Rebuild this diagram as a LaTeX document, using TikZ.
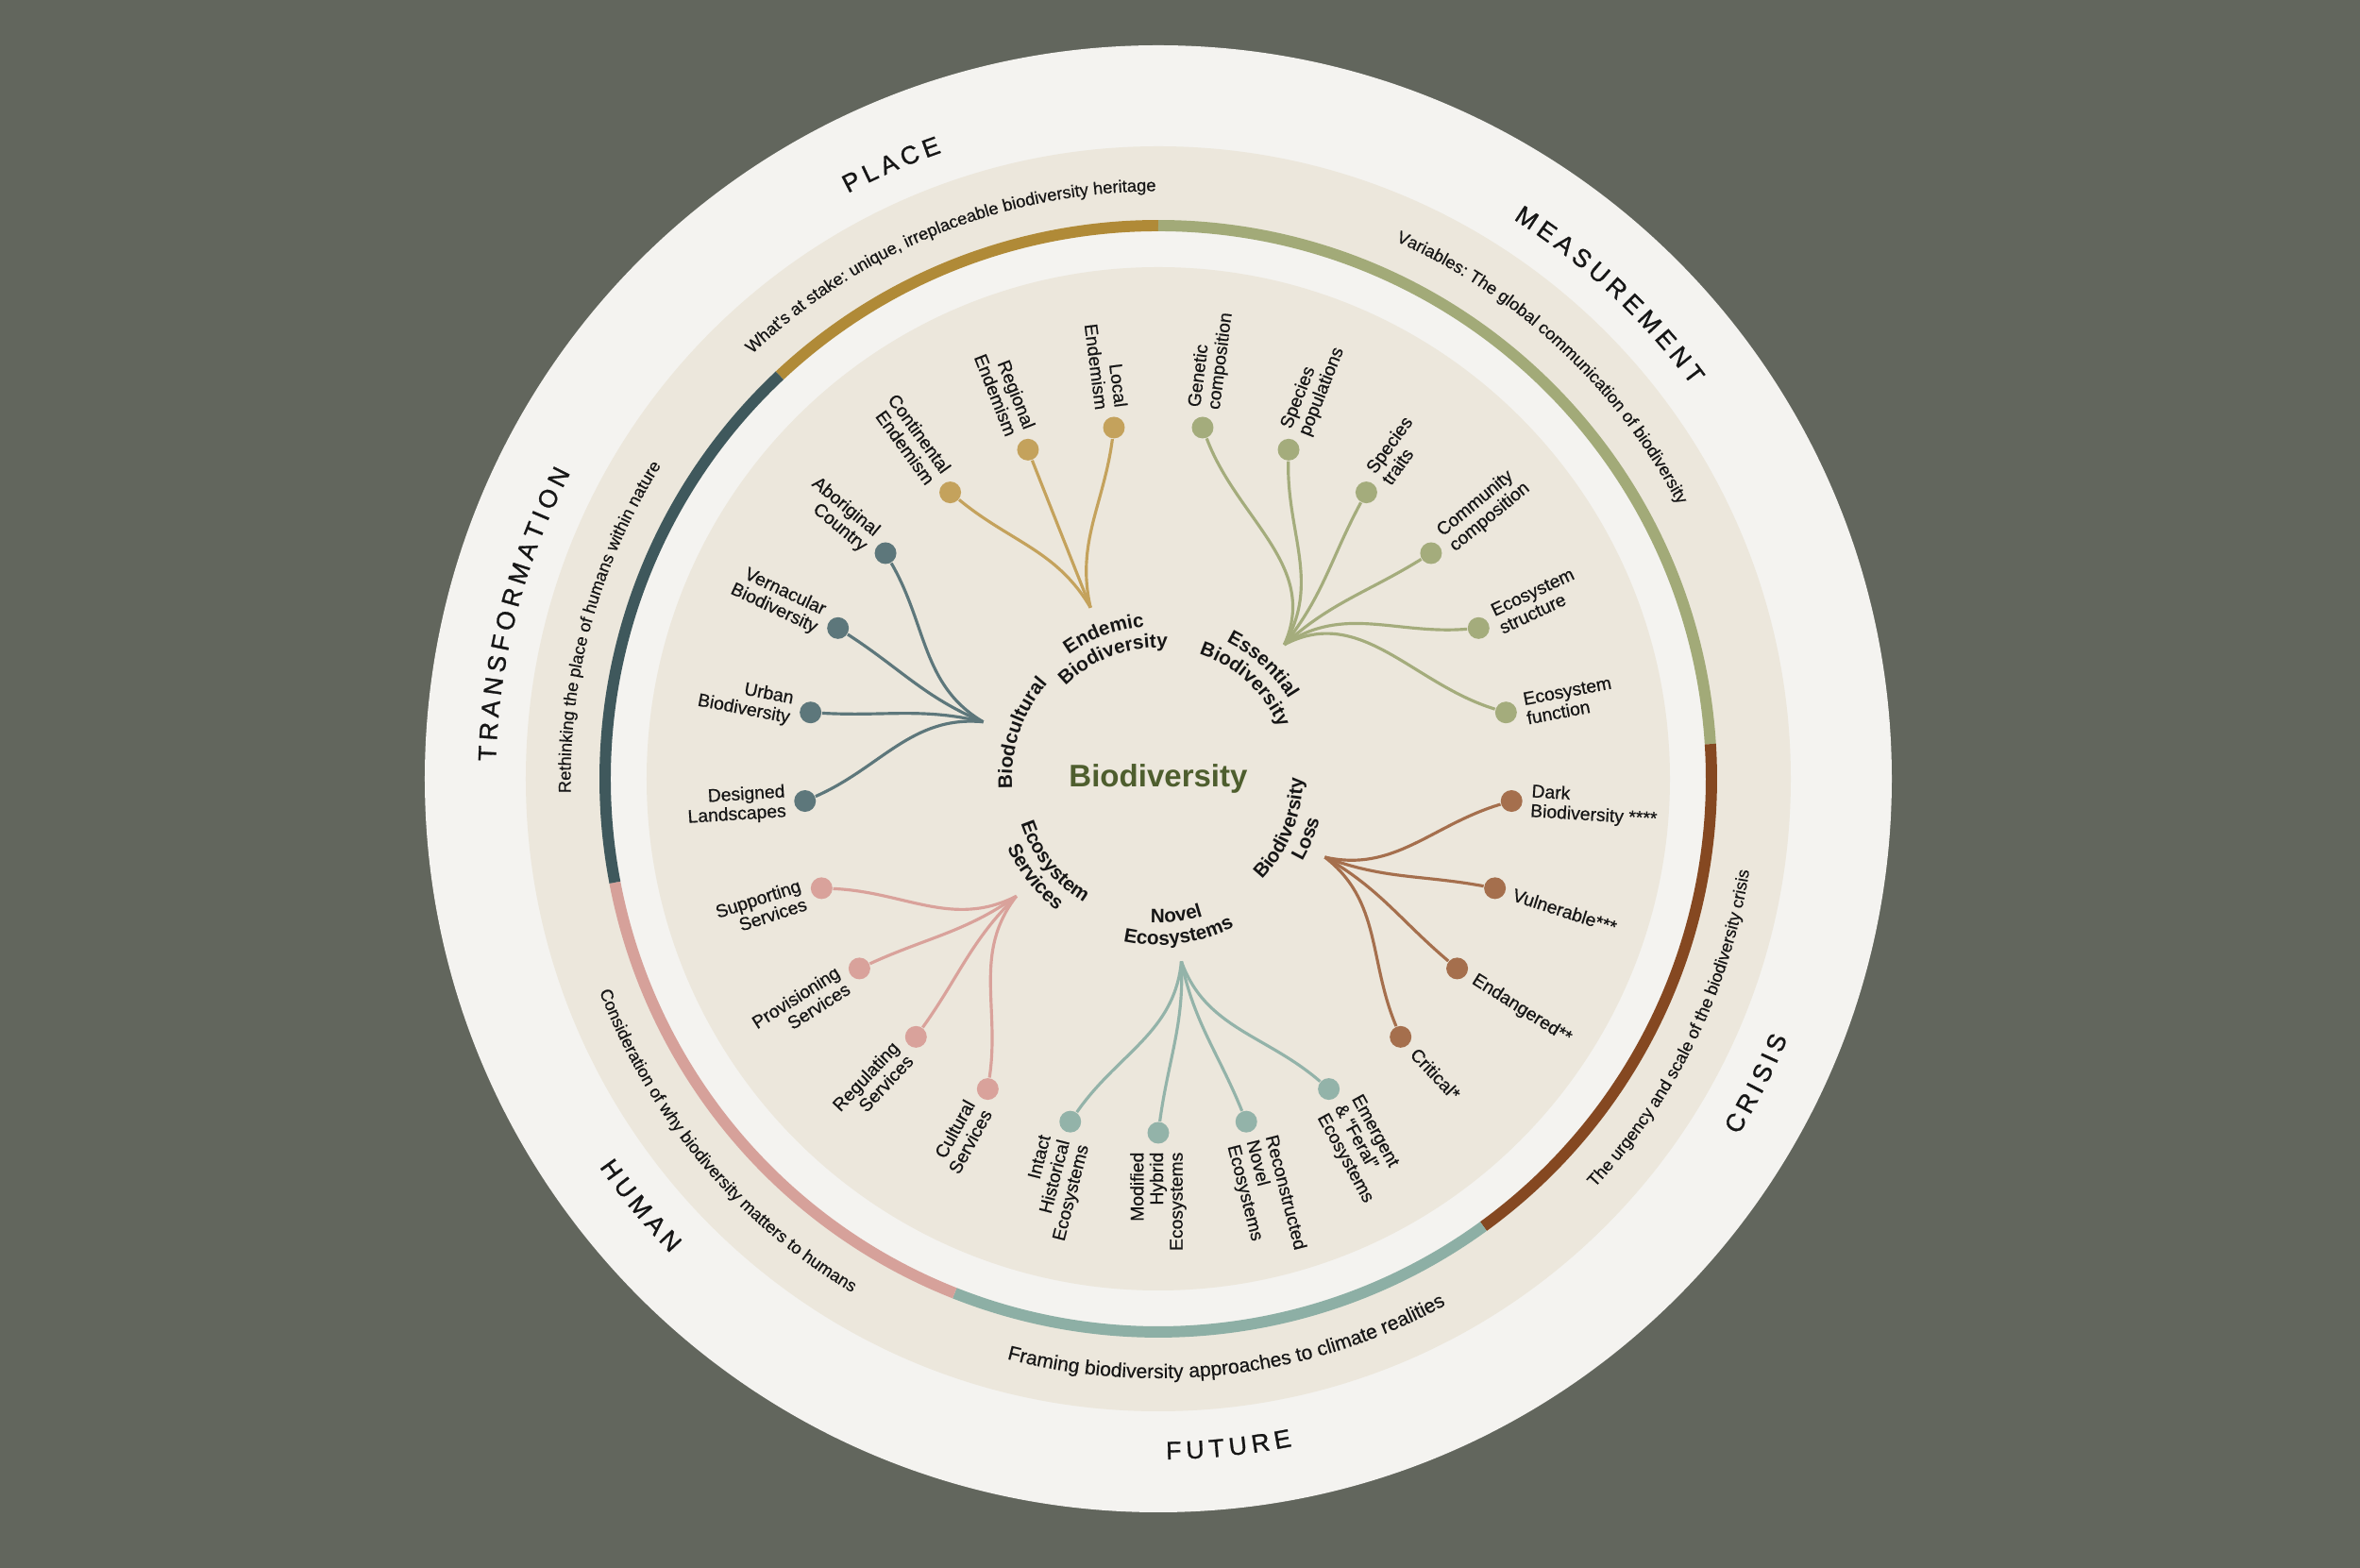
\documentclass[tikz,border=0pt]{standalone}
\usepackage{fontspec}
\setmainfont{Liberation Sans}
\newfontfamily\trackedsans[WordSpace=0.7, FakeBold=1.1]{Liberation Sans}
\newfontfamily\medsans[FakeBold=0.6]{Liberation Sans}
\newfontfamily\ringsans[FakeBold=0.4]{Liberation Sans}
\usepackage{xcolor}
\usepackage{tikz}
\usetikzlibrary{decorations.text}

\definecolor{slatebg}{HTML}{62665D}
\definecolor{paper}{HTML}{F4F3F0}
\definecolor{sand}{HTML}{ECE7DC}
\definecolor{ink}{HTML}{161616}
\definecolor{coregreen}{HTML}{4E5E2E}
\definecolor{goldband}{HTML}{B08A37}
\definecolor{sageband}{HTML}{A2AA78}
\definecolor{rustband}{HTML}{854821}
\definecolor{tealband}{HTML}{8DAFA5}
\definecolor{roseband}{HTML}{D6A19A}
\definecolor{slateband}{HTML}{3F585C}
\definecolor{goldleaf}{HTML}{C4A25C}
\definecolor{sageleaf}{HTML}{A4AC7C}
\definecolor{rustleaf}{HTML}{A56F4D}
\definecolor{tealleaf}{HTML}{93B3A9}
\definecolor{roseleaf}{HTML}{D9A29B}
\definecolor{slateleaf}{HTML}{5D777B}

\newcommand\ringcaps{\trackedsans\fontsize{7.6}{8}\selectfont}
\newcommand\ringtxt{\ringsans\fontsize{5.2}{6}\selectfont}
\newcommand\ringbig{\ringsans\fontsize{6}{7}\selectfont}
\newcommand\cattxt{\bfseries\fontsize{5.9}{6.5}\selectfont}
\newcommand\leaftxt{\medsans\fontsize{5.5}{5.9}\selectfont}

\begin{document}
\begin{tikzpicture}[
    dot/.style={
        circle,
        inner sep=0pt,
        minimum size=0.23cm
    },
    leafR/.style={
        anchor=west,
        align=left,
        font=\leaftxt,
        text=ink,
        inner sep=0pt
    },
    leafL/.style={
        anchor=east,
        align=right,
        font=\leaftxt,
        text=ink,
        inner sep=0pt
    },
    branch/.style={
        line width=0.9pt
    },
    band/.style={
        line width=3.4pt
    },
    arctext/.style={
        decorate,
        decoration={text along path, text align=center, text color=ink, text={#1}}
    }
]

% Background and rings
\fill[slatebg] (-12.27,-8.36) rectangle (12.73,8.25);
\fill[paper] (0,0) circle (7.77);
\fill[sand] (0,0) circle (6.70);
\fill[paper] (0,0) circle (5.86);
\fill[sand] (0,0) circle (5.42);

% Coloured band
\draw[band, goldband] (133.2:5.86) arc[start angle=133.2, end angle=90, radius=5.86];
\draw[band, sageband] (90:5.86) arc[start angle=90, end angle=3.6, radius=5.86];
\draw[band, rustband] (3.6:5.86) arc[start angle=3.6, end angle=-54, radius=5.86];
\draw[band, tealband] (-54:5.86) arc[start angle=-54, end angle=-111.6, radius=5.86];
\draw[band, roseband] (248.4:5.86) arc[start angle=248.4, end angle=190.8, radius=5.86];
\draw[band, slateband] (190.8:5.86) arc[start angle=190.8, end angle=133.2, radius=5.86];

% Outer themes
\path[arctext={|\ringcaps|P L A C E}] (138.5:7.02) arc[start angle=138.5, end angle=88.5, radius=7.02];
\path[arctext={|\ringcaps|M E A S U R E M E N T}] (72:7.02) arc[start angle=72, end angle=22, radius=7.02];
\path[arctext={|\ringcaps|T R A N S F O R M A T I O N}] (190.5:7.02) arc[start angle=190.5, end angle=140.5, radius=7.02];
\path[arctext={|\ringcaps|C R I S I S}] (-52:7.21) arc[start angle=-52, end angle=-2, radius=7.21];
\path[arctext={|\ringcaps|F U T U R E}] (-109:7.21) arc[start angle=-109, end angle=-59, radius=7.21];
\path[arctext={|\ringcaps|H U M A N}] (194.5:7.21) arc[start angle=194.5, end angle=244.5, radius=7.21];

% Ring captions
\path[arctext={|\ringtxt|What's at stake: unique, irreplaceable biodiversity heritage}] (147:6.225) arc[start angle=147, end angle=77, radius=6.225];
\path[arctext={|\ringtxt|Variables: The global communication of biodiversity}] (82:6.225) arc[start angle=82, end angle=12, radius=6.225];
\path[arctext={|\ringtxt|Rethinking the place of humans within nature}] (199.6:6.225) arc[start angle=199.6, end angle=129.6, radius=6.225];
\path[arctext={|\ringtxt|The urgency and scale of the biodiversity crisis}] (-61:6.335) arc[start angle=-61, end angle=9, radius=6.335];
\path[arctext={|\ringbig|Framing biodiversity approaches to climate realities}] (-118:6.35) arc[start angle=-118, end angle=-48, radius=6.35];
\path[arctext={|\ringtxt|Consideration of why biodiversity matters to humans}] (185:6.335) arc[start angle=185, end angle=255, radius=6.335];

% Centre
\node[font=\bfseries\fontsize{9.4}{10}\selectfont, text=coregreen] (core) at (0,0) {Biodiversity};

% Category labels
\path[arctext={|\cattxt|Endemic}] (155.5:1.62) arc[start angle=155.5, end angle=65.5, radius=1.62];
\path[arctext={|\cattxt|Biodiversity}] (155.5:1.39) arc[start angle=155.5, end angle=65.5, radius=1.39];
\path[arctext={|\cattxt|Essential}] (92.5:1.62) arc[start angle=92.5, end angle=2.5, radius=1.62];
\path[arctext={|\cattxt|Biodiversity}] (92.5:1.39) arc[start angle=92.5, end angle=2.5, radius=1.39];
\path[arctext={|\cattxt|Biodcultural}] (206.5:1.55) arc[start angle=206.5, end angle=116.5, radius=1.55];
\path[arctext={|\cattxt|Biodiversity}] (-67:1.53) arc[start angle=-67, end angle=23, radius=1.53];
\path[arctext={|\cattxt|Loss}] (-67:1.76) arc[start angle=-67, end angle=23, radius=1.76];
\path[arctext={|\cattxt|Novel}] (-127.5:1.53) arc[start angle=-127.5, end angle=-37.5, radius=1.53];
\path[arctext={|\cattxt|Ecosystems}] (-127.5:1.76) arc[start angle=-127.5, end angle=-37.5, radius=1.76];
\path[arctext={|\cattxt|Ecosystem}] (173.5:1.53) arc[start angle=173.5, end angle=263.5, radius=1.53];
\path[arctext={|\cattxt|Services}] (173.5:1.76) arc[start angle=173.5, end angle=263.5, radius=1.76];

% Endemic Biodiversity
\coordinate (endroot) at (111.6:1.95);
\node[dot, fill=goldleaf] (local) at (97.2:3.75) {};
\node[dot, fill=goldleaf] (regional) at (111.6:3.75) {};
\node[dot, fill=goldleaf] (continental) at (126:3.75) {};
\node[leafL, rotate=277.2] (localtxt) at (97.2:3.95) {Local\\Endemism};
\node[leafL, rotate=291.6] (regionaltxt) at (111.6:3.95) {Regional\\Endemism};
\node[leafL, rotate=306] (continentaltxt) at (126:3.95) {Continental\\Endemism};
\draw[branch, goldleaf] (endroot) to[out=102.9, in=262.6] (local);
\draw[branch, goldleaf] (endroot) to[out=111.6, in=291.6] (regional);
\draw[branch, goldleaf] (endroot) to[out=120.3, in=320.6] (continental);

% Essential Biodiversity
\coordinate (essroot) at (46.8:1.95);
\node[dot, fill=sageleaf] (function) at (10.8:3.75) {};
\node[dot, fill=sageleaf] (structure) at (25.2:3.75) {};
\node[dot, fill=sageleaf] (community) at (39.6:3.75) {};
\node[dot, fill=sageleaf] (traits) at (54:3.75) {};
\node[dot, fill=sageleaf] (populations) at (68.4:3.75) {};
\node[dot, fill=sageleaf] (genetic) at (82.8:3.75) {};
\node[leafR, rotate=10.8] (functiontxt) at (10.8:3.95) {Ecosystem\\function};
\node[leafR, rotate=25.2] (structuretxt) at (25.2:3.95) {Ecosystem\\structure};
\node[leafR, rotate=39.6] (communitytxt) at (39.6:3.95) {Community\\composition};
\node[leafR, rotate=54] (traitstxt) at (54:3.95) {Species\\traits};
\node[leafR, rotate=68.4] (populationstxt) at (68.4:3.95) {Species\\populations};
\node[leafR, rotate=82.8] (genetictxt) at (82.8:3.95) {Genetic\\composition};
\draw[branch, sageleaf] (essroot) to[out=27.7, in=163] (function);
\draw[branch, sageleaf] (essroot) to[out=34.2, in=184.9] (structure);
\draw[branch, sageleaf] (essroot) to[out=42.3, in=211.9] (community);
\draw[branch, sageleaf] (essroot) to[out=51.3, in=241.7] (traits);
\draw[branch, sageleaf] (essroot) to[out=59.4, in=268.7] (populations);
\draw[branch, sageleaf] (essroot) to[out=65.9, in=290.6] (genetic);

% Biodiversity Loss
\coordinate (lossroot) at (-25.2:1.95);
\node[dot, fill=rustleaf] (critical) at (-46.8:3.75) {};
\node[dot, fill=rustleaf] (endangered) at (-32.4:3.75) {};
\node[dot, fill=rustleaf] (vulnerable) at (-18:3.75) {};
\node[dot, fill=rustleaf] (dark) at (-3.6:3.75) {};
\node[leafR, rotate=-46.8] (criticaltxt) at (-46.8:3.95) {Critical*};
\node[leafR, rotate=-32.4] (endangeredtxt) at (-32.4:3.95) {Endangered**};
\node[leafR, rotate=-18] (vulnerabletxt) at (-18:3.95) {Vulnerable***};
\node[leafR, rotate=-3.6] (darktxt) at (-3.6:3.95) {Dark\\Biodiversity ****};
\draw[branch, rustleaf] (lossroot) to[out=-37.8, in=112.9] (critical);
\draw[branch, rustleaf] (lossroot) to[out=-29.7, in=139.9] (endangered);
\draw[branch, rustleaf] (lossroot) to[out=-20.7, in=169.7] (vulnerable);
\draw[branch, rustleaf] (lossroot) to[out=-12.6, in=196.7] (dark);

% Novel Ecosystems
\coordinate (novroot) at (-82.8:1.95);
\node[dot, fill=tealleaf] (emergent) at (-61.2:3.75) {};
\node[dot, fill=tealleaf] (reconstructed) at (-75.6:3.75) {};
\node[dot, fill=tealleaf] (modified) at (-90:3.75) {};
\node[dot, fill=tealleaf] (intact) at (-104.4:3.75) {};
\node[leafR, rotate=-61.2] (emergenttxt) at (-61.2:3.95) {Emergent\\\& “Feral”\\Ecosystems};
\node[leafR, rotate=-75.6] (reconstructedtxt) at (-75.6:3.95) {Reconstructed\\Novel\\Ecosystems};
\node[leafL, rotate=90] (modifiedtxt) at (-90:3.95) {Modified\\Hybrid\\Ecosystems};
\node[leafL, rotate=75.6] (intacttxt) at (-104.4:3.95) {Intact\\Historical\\Ecosystems};
\draw[branch, tealleaf] (novroot) to[out=-70.2, in=139.1] (emergent);
\draw[branch, tealleaf] (novroot) to[out=-78.3, in=112.1] (reconstructed);
\draw[branch, tealleaf] (novroot) to[out=-87.3, in=82.3] (modified);
\draw[branch, tealleaf] (novroot) to[out=-95.4, in=55.3] (intact);

% Ecosystem Services
\coordinate (serroot) at (219.6:1.95);
\node[dot, fill=roseleaf] (supporting) at (198:3.75) {};
\node[dot, fill=roseleaf] (provisioning) at (212.4:3.75) {};
\node[dot, fill=roseleaf] (regulating) at (226.8:3.75) {};
\node[dot, fill=roseleaf] (cultural) at (241.2:3.75) {};
\node[leafL, rotate=18] (supportingtxt) at (198:3.95) {Supporting\\Services};
\node[leafL, rotate=32.4] (provisioningtxt) at (212.4:3.95) {Provisioning\\Services};
\node[leafL, rotate=46.8] (regulatingtxt) at (226.8:3.95) {Regulating\\Services};
\node[leafL, rotate=61.2] (culturaltxt) at (241.2:3.95) {Cultural\\Services};
\draw[branch, roseleaf] (serroot) to[out=207, in=357.7] (supporting);
\draw[branch, roseleaf] (serroot) to[out=215.1, in=24.7] (provisioning);
\draw[branch, roseleaf] (serroot) to[out=224.1, in=54.5] (regulating);
\draw[branch, roseleaf] (serroot) to[out=232.2, in=81.5] (cultural);

% Biocultural
\coordinate (bioroot) at (162:1.95);
\node[dot, fill=slateleaf] (aboriginal) at (140.4:3.75) {};
\node[dot, fill=slateleaf] (vernacular) at (154.8:3.75) {};
\node[dot, fill=slateleaf] (urban) at (169.2:3.75) {};
\node[dot, fill=slateleaf] (designed) at (183.6:3.75) {};
\node[leafL, rotate=-39.6] (aboriginaltxt) at (140.4:3.95) {Aboriginal\\Country};
\node[leafL, rotate=-25.2] (vernaculartxt) at (154.8:3.95) {Vernacular\\Biodiversity};
\node[leafL, rotate=-10.8] (urbantxt) at (169.2:3.95) {Urban\\Biodiversity};
\node[leafL, rotate=3.6] (designedtxt) at (183.6:3.95) {Designed\\Landscapes};
\draw[branch, slateleaf] (bioroot) to[out=149.4, in=300.1] (aboriginal);
\draw[branch, slateleaf] (bioroot) to[out=157.5, in=327.1] (vernacular);
\draw[branch, slateleaf] (bioroot) to[out=166.5, in=356.9] (urban);
\draw[branch, slateleaf] (bioroot) to[out=174.6, in=23.9] (designed);

\end{tikzpicture}
\end{document}
